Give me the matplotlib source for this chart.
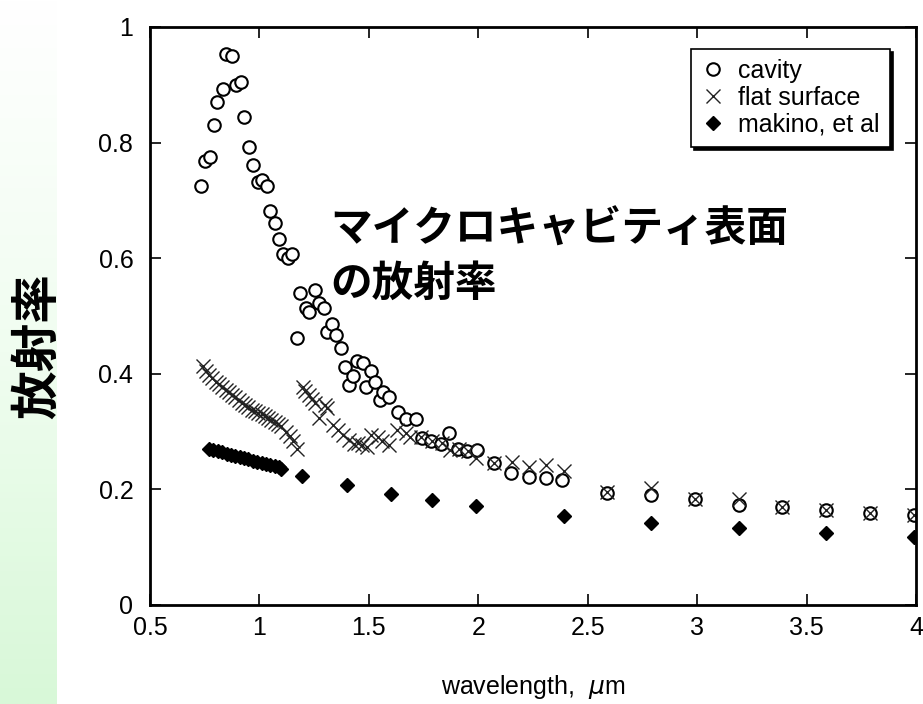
import numpy as np
import matplotlib.pyplot as plt
from matplotlib.colors import LinearSegmentedColormap

plt.rcParams['font.family'] = ['Liberation Sans', 'DejaVu Sans']

# cavity (open circles)
cavity_x = [0.733, 0.75, 0.776, 0.791, 0.808, 0.833, 0.849, 0.876, 0.891, 0.914,
            0.929, 0.951, 0.970, 0.992, 1.010, 1.033, 1.05, 1.073, 1.091, 1.109,
            1.132, 1.151, 1.171, 1.186, 1.215, 1.227, 1.253, 1.273, 1.295, 1.310,
            1.333, 1.351, 1.374, 1.390, 1.409, 1.427, 1.447, 1.474, 1.485, 1.512,
            1.527, 1.550, 1.564, 1.594, 1.633, 1.670, 1.715, 1.742, 1.785, 1.830,
            1.867, 1.906, 1.947, 1.992, 2.07, 2.149, 2.232, 2.308, 2.383,
            2.59, 2.79, 2.99, 3.19, 3.39, 3.59, 3.79, 3.99]
cavity_y = [0.725, 0.768, 0.775, 0.830, 0.870, 0.892, 0.953, 0.950, 0.900, 0.904,
            0.845, 0.793, 0.762, 0.732, 0.735, 0.725, 0.682, 0.661, 0.633, 0.608,
            0.600, 0.608, 0.462, 0.540, 0.513, 0.507, 0.545, 0.522, 0.513, 0.473,
            0.487, 0.467, 0.445, 0.411, 0.381, 0.396, 0.423, 0.418, 0.378, 0.404,
            0.386, 0.355, 0.368, 0.360, 0.334, 0.322, 0.322, 0.289, 0.283, 0.279,
            0.298, 0.270, 0.267, 0.269, 0.245, 0.228, 0.222, 0.219, 0.216,
            0.194, 0.190, 0.183, 0.173, 0.170, 0.164, 0.160, 0.155]

# flat surface (crosses)
flat_x = [0.74, 0.755, 0.77, 0.785, 0.80, 0.815, 0.83, 0.845, 0.86, 0.875,
          0.89, 0.905, 0.92, 0.935, 0.95, 0.965, 0.98, 0.995, 1.01, 1.025,
          1.04, 1.055, 1.07, 1.085, 1.10, 1.12, 1.14, 1.155, 1.17,
          1.197, 1.21, 1.225, 1.24, 1.255, 1.27, 1.30, 1.31, 1.335, 1.36,
          1.38, 1.41, 1.43, 1.45, 1.47, 1.49, 1.51, 1.54, 1.56, 1.59,
          1.63, 1.67, 1.69, 1.74, 1.79, 1.835, 1.87, 1.91, 1.955, 1.99,
          2.07, 2.155, 2.23, 2.31, 2.39,
          2.59, 2.79, 2.99, 3.19, 3.39, 3.59, 3.79, 3.99]
flat_y = [0.414, 0.405, 0.398, 0.392, 0.386, 0.382, 0.377, 0.372, 0.368, 0.363,
          0.359, 0.355, 0.350, 0.346, 0.342, 0.338, 0.336, 0.333, 0.330, 0.327,
          0.323, 0.320, 0.317, 0.313, 0.310, 0.300, 0.292, 0.283, 0.270,
          0.378, 0.370, 0.364, 0.357, 0.350, 0.323, 0.346, 0.340, 0.311, 0.302,
          0.294, 0.285, 0.278, 0.280, 0.276, 0.274, 0.294, 0.291, 0.283, 0.277,
          0.303, 0.297, 0.291, 0.291, 0.283, 0.280, 0.268, 0.270, 0.267, 0.254,
          0.245, 0.248, 0.239, 0.242, 0.231,
          0.195, 0.202, 0.184, 0.183, 0.170, 0.164, 0.160, 0.155]

# makino, et al (filled diamonds)
makino_x = [0.77, 0.79, 0.81, 0.83, 0.85, 0.87, 0.89, 0.91, 0.93, 0.95,
            0.97, 0.99, 1.01, 1.03, 1.05, 1.07, 1.09, 1.10,
            1.194, 1.40, 1.60, 1.79, 1.99, 2.39, 2.79, 3.19, 3.59, 3.99]
makino_y = [0.270, 0.268, 0.266, 0.264, 0.262, 0.260, 0.258, 0.256, 0.254, 0.252,
            0.250, 0.248, 0.246, 0.244, 0.242, 0.240, 0.238, 0.236,
            0.224, 0.207, 0.192, 0.182, 0.172, 0.154, 0.142, 0.134, 0.124, 0.118]

xticks = [0.5, 1, 1.5, 2, 2.5, 3, 3.5, 4]
xtick_labels = ['0.5', '1', '1.5', '2', '2.5', '3', '3.5', '4']
yticks = [0, 0.2, 0.4, 0.6, 0.8, 1]
ytick_labels = ['0', '0.2', '0.4', '0.6', '0.8', '1']

fig = plt.figure(figsize=(9.23, 7.04), dpi=100)

# pale green strip on the left
strip = fig.add_axes([0, 0, 57 / 923, 1])
cmap = LinearSegmentedColormap.from_list('g', ['#ffffff', '#f0fdf0', '#d8f8d8'])
strip.imshow(np.linspace(0, 1, 256).reshape(-1, 1), aspect='auto', cmap=cmap)
strip.axis('off')

ax = fig.add_axes([150 / 923, 1 - 605 / 704, 766 / 923, 578 / 704])
ax.plot(cavity_x, cavity_y, 'o', mfc='white', mec='black', ms=9, mew=1.5,
        linestyle='none', label='cavity')
ax.plot(flat_x, flat_y, 'x', color='#222222', ms=10, mew=1.0,
        linestyle='none', label='flat surface')
ax.plot(makino_x, makino_y, 'D', color='black', ms=7,
        linestyle='none', label='makino, et al')

ax.set_xlim(0.5, 4)
ax.set_ylim(0, 1)
ax.set_xticks(xticks)
ax.set_xticklabels(xtick_labels)
ax.set_yticks(yticks)
ax.set_yticklabels(ytick_labels)
ax.tick_params(direction='in', length=8, width=1.2, top=True, right=True,
               labelsize=18)
ax.tick_params(axis='x', pad=8)
ax.tick_params(axis='y', pad=12)
for sp in ax.spines.values():
    sp.set_linewidth(2)

ax.set_xlabel(r'wavelength,  $\mu$m', fontsize=18, labelpad=24)
fig.text(38 / 923, 1 - 346 / 704, '放射率', rotation=90, fontsize=35,
         fontweight='bold', ha='center', va='center',
         family=['Noto Sans CJK JP', 'DejaVu Sans'])

ax.text(1.322, 0.686, 'マイクロキャビティ表面\nの放射率', fontsize=30,
        fontweight='bold', ha='left', va='top', linespacing=1.38,
        family=['Noto Sans CJK JP', 'DejaVu Sans'])

leg = ax.legend(loc='upper right', bbox_to_anchor=(0.966, 0.962),
                borderaxespad=0, fancybox=False, framealpha=1,
                edgecolor='black', fontsize=18,
                shadow={'color': 'black', 'alpha': 1}, handlelength=1.0,
                handletextpad=0.5, borderpad=0.4, labelspacing=0.12)
leg.get_frame().set_linewidth(1.2)

fig.savefig('out.png', dpi=100)
